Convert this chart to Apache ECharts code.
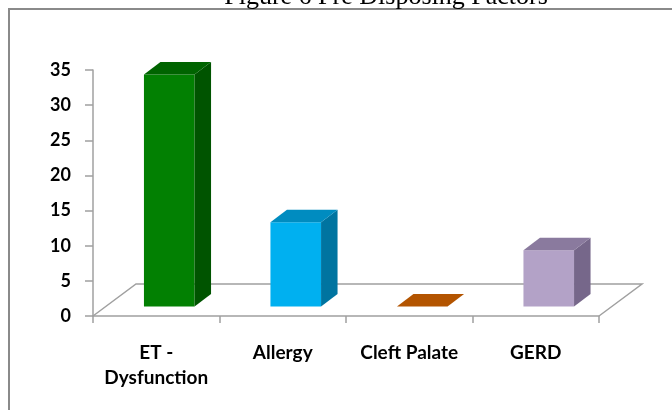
<!DOCTYPE html>
<html>
<head>
<meta charset="utf-8">
<script src="https://cdn.jsdelivr.net/npm/echarts@6/dist/echarts.min.js"></script>
<style>
  html, body { margin: 0; padding: 0; background: #fff; }
  #chart { width: 672px; height: 410px; }
</style>
</head>
<body>
<div id="chart"></div>
<script>
// data
var categories = ['ET -\nDysfunction', 'Allergy', 'Cleft Palate', 'GERD'];
var values = [33, 12, 0, 8];
var yMin = 0, yMax = 35, yStep = 5;

// face colours per bar: front, side, top
var frontColors = ['#028002', '#00B0F0', '#B35400', '#B3A2C7'];
var sideColors  = ['#005400', '#0074A0', '#7A3900', '#76678A'];
var topColors   = ['#006400', '#008CC0', '#B35400', '#8A7A9E'];

var axisGray = '#a0a0a0';
var labelFont = 'Lato';

// 3d offsets (pixels)
var FLOOR_DX = 43, FLOOR_DY = -32;   // depth of floor
var FRONT_DX = 13, FRONT_DY = -9.5;  // where bar front sits on the floor
var BAR_DX = 16.5, BAR_DY = -12.5;   // bar depth

var chart = echarts.init(document.getElementById('chart'));

function renderFloor(params, api) {
    var cs = params.coordSys;
    var x0 = cs.x, x1 = cs.x + cs.width, y = cs.y + cs.height;
    return {
        type: 'polyline',
        shape: {
            points: [[x0, y], [x0 + FLOOR_DX, y + FLOOR_DY], [x1 + FLOOR_DX, y + FLOOR_DY], [x1, y]]
        },
        style: { stroke: axisGray, lineWidth: 1.5, fill: null }
    };
}

function renderBar(params, api) {
    var i = api.value(0);
    var v = api.value(1);
    var base = api.coord([i, 0]);
    var top = api.coord([i, v]);
    var bw = api.size([1, 0])[0];
    var w = bw * 0.4;
    var xl = base[0] - w / 2 + FRONT_DX;
    var xr = xl + w;
    var yb = base[1] + FRONT_DY;
    var yt = top[1] + FRONT_DY;
    var kids = [];
    if (yb - yt > 0.5) {
        kids.push({
            type: 'rect',
            shape: { x: xl, y: yt, width: w, height: yb - yt },
            style: { fill: frontColors[i] }
        });
        kids.push({
            type: 'polygon',
            shape: { points: [[xr, yt], [xr + BAR_DX, yt + BAR_DY], [xr + BAR_DX, yb + BAR_DY], [xr, yb]] },
            style: { fill: sideColors[i] }
        });
    }
    kids.push({
        type: 'polygon',
        shape: { points: [[xl, yt], [xr, yt], [xr + BAR_DX, yt + BAR_DY], [xl + BAR_DX, yt + BAR_DY]] },
        style: { fill: topColors[i] }
    });
    return { type: 'group', children: kids };
}

var barData = values.map(function (v, i) { return [i, v]; });

chart.setOption({
    animation: false,
    backgroundColor: '#fff',
    graphic: [
        {
            type: 'rect',
            shape: { x: 9, y: 9, width: 720, height: 460 },
            style: { fill: null, stroke: '#8a8a8a', lineWidth: 2 }
        },
        {
            type: 'text',
            x: 386, y: 10,
            style: {
                text: 'Figure 6 Pre Disposing Factors',
                font: '26px "Liberation Serif"',
                fill: '#000',
                align: 'center',
                verticalAlign: 'bottom'
            }
        }
    ],
    grid: { left: 93, right: 73, top: 70, bottom: 94 },
    xAxis: {
        type: 'category',
        data: categories,
        boundaryGap: true,
        axisLine: { show: true, lineStyle: { color: axisGray, width: 1.5 } },
        axisTick: { show: true, length: 7, alignWithLabel: false, lineStyle: { color: axisGray, width: 1.5 } },
        axisLabel: {
            interval: 0,
            margin: 24,
            color: '#000',
            fontFamily: labelFont,
            fontWeight: 'bold',
            fontSize: 19,
            lineHeight: 25
        },
        splitLine: { show: false }
    },
    yAxis: {
        type: 'value',
        min: yMin, max: yMax, interval: yStep,
        axisLine: { show: true, lineStyle: { color: axisGray, width: 1.5 } },
        axisTick: { show: true, length: 8, lineStyle: { color: axisGray, width: 1.5 } },
        axisLabel: {
            margin: 22,
            color: '#000',
            fontFamily: labelFont,
            fontWeight: 'bold',
            fontSize: 18
        },
        splitLine: { show: false }
    },
    series: [
        {
            type: 'custom',
            renderItem: renderFloor,
            data: [[0, 0]],
            silent: true,
            z: 1
        },
        {
            type: 'custom',
            renderItem: renderBar,
            data: barData,
            encode: { x: 0, y: 1 },
            z: 2
        }
    ]
});
</script>
</body>
</html>
